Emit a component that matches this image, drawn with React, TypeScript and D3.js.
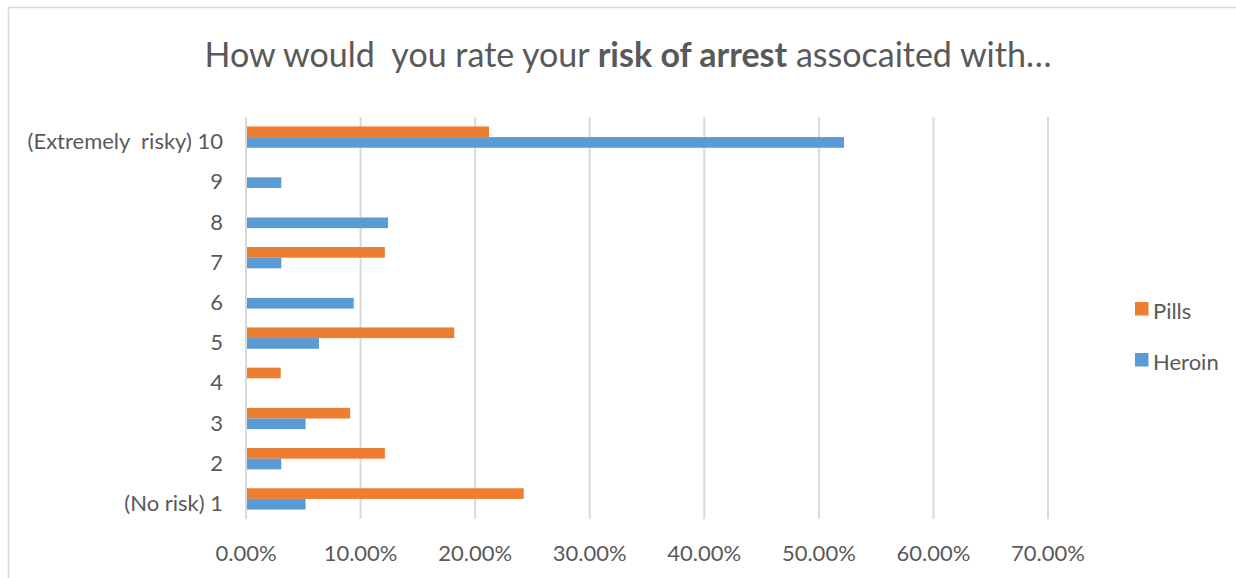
import React from "react";
import * as d3 from "d3";

const categories = ["(No risk) 1", "2", "3", "4", "5", "6", "7", "8", "9", "(Extremely  risky) 10"];
const seriesNames = ["Pills", "Heroin"];
const pillsValues = [24.24, 12.12, 9.09, 3.03, 18.18, 0, 12.12, 0, 0, 21.21];
const heroinValues = [5.2, 3.08, 5.2, 0, 6.37, 9.4, 3.08, 12.4, 3.08, 52.2];
const xTicks = [0, 10, 20, 30, 40, 50, 60, 70];
const colors: Record<string, string> = { Pills: "#ED7D31", Heroin: "#5B9BD5" };

const W = 1236;
const H = 578;
const FONT = "Lato, 'Open Sans', sans-serif";
const TEXT = "#595959";
const GRID = "#d9d9d9";

export default function App() {
  const x = d3.scaleLinear().domain([0, 70]).range([246, 1048]);
  const y = d3.scaleBand<string>().domain([...categories].reverse()).range([117, 519]).paddingInner(0).paddingOuter(0);
  const groupH = 21.3;
  const inner = d3.scaleBand<string>().domain(seriesNames).range([-groupH / 2, groupH / 2]);

  const rows = categories.map((c, i) => ({ c, Pills: pillsValues[i], Heroin: heroinValues[i] }));

  return (
    <svg width={W} height={H} style={{ position: "absolute", left: 0, top: 0, background: "#fff" }} fontFamily={FONT}>
      <rect x={8.5} y={7.5} width={1400} height={700} fill="#fff" stroke={GRID} strokeWidth={1.5} />
      <text x={628} y={67} textAnchor="middle" fontSize={34} fill={TEXT} style={{ whiteSpace: "pre" }}>
        {"How would  you rate your "}<tspan fontWeight="bold">risk of arrest</tspan>{" assocaited with…"}
      </text>
      {xTicks.map((t) => (
        <line key={"g" + t} x1={x(t)} x2={x(t)} y1={117} y2={519} stroke={GRID} strokeWidth={2} />
      ))}
      {rows.map((r) => {
        const cy = (y(r.c) as number) + y.bandwidth() / 2;
        return (
          <g key={r.c}>
            {seriesNames.map((s) => {
              const v = (r as any)[s] as number;
              if (!v) return null;
              return (
                <rect
                  key={s}
                  x={x(0) + 1}
                  y={cy + (inner(s) as number)}
                  width={x(v) - x(0) - 1}
                  height={inner.bandwidth()}
                  fill={colors[s]}
                />
              );
            })}
            <text x={223} y={cy + 3.5} textAnchor="end" dominantBaseline="central" fontSize={22} fill={TEXT} style={{ whiteSpace: "pre" }}>
              {r.c}
            </text>
          </g>
        );
      })}
      {xTicks.map((t) => (
        <text key={"t" + t} x={x(t)} y={552} textAnchor="middle" dominantBaseline="central" fontSize={22} fill={TEXT}>
          {t.toFixed(2) + "%"}
        </text>
      ))}
      {seriesNames.map((s, i) => (
        <g key={"l" + s}>
          <rect x={1135} y={302 + i * 51} width={13.5} height={13.5} fill={colors[s]} />
          <text x={1153} y={310.5 + i * 51} dominantBaseline="central" fontSize={22} fill={TEXT}>
            {s}
          </text>
        </g>
      ))}
    </svg>
  );
}
